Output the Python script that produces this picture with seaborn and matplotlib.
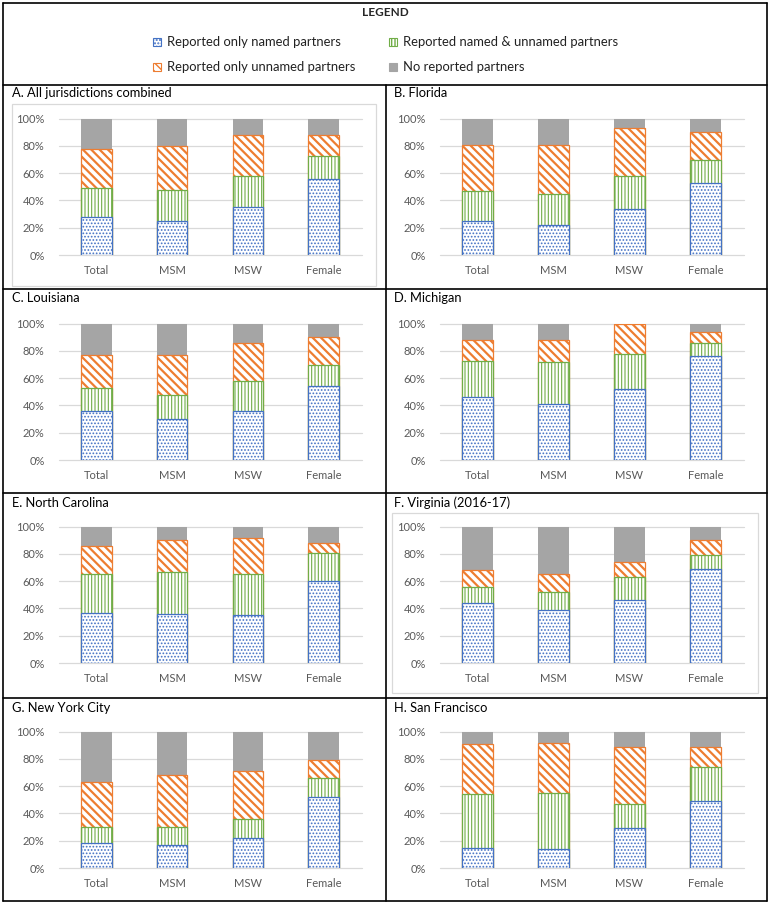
import numpy as np
import pandas as pd
import matplotlib
matplotlib.use("Agg")
import matplotlib.pyplot as plt
from matplotlib.patches import Rectangle
from matplotlib.lines import Line2D
import seaborn as sns

sns.set_theme(style="white")
plt.rcParams['font.family'] = ['Lato', 'DejaVu Sans']

categories = ["Total", "MSM", "MSW", "Female"]
series_names = ["Reported only named partners", "Reported named & unnamed partners",
                "Reported only unnamed partners", "No reported partners"]
panel_titles = ["A. All jurisdictions combined", "B. Florida", "C. Louisiana", "D. Michigan",
                "E. North Carolina", "F. Virginia (2016-17)", "G. New York City", "H. San Francisco"]

# percentages per panel: [named only, named & unnamed, unnamed only, none]
all_named   = [28, 25, 35, 56]; all_both = [21, 23, 23, 17]; all_unnamed = [29, 32, 30, 15]; all_none = [22, 20, 12, 12]
fl_named    = [25, 22, 34, 53]; fl_both  = [22, 23, 24, 17]; fl_unnamed  = [34, 36, 35, 20]; fl_none  = [19, 19, 7, 10]
la_named    = [36, 30, 36, 54]; la_both  = [17, 18, 22, 16]; la_unnamed  = [24, 29, 28, 20]; la_none  = [23, 23, 14, 10]
mi_named    = [46, 41, 52, 76]; mi_both  = [27, 31, 26, 10]; mi_unnamed  = [15, 16, 22, 8];  mi_none  = [12, 12, 0, 6]
nc_named    = [37, 36, 35, 60]; nc_both  = [28, 31, 30, 21]; nc_unnamed  = [21, 23, 27, 7];  nc_none  = [14, 10, 8, 12]
va_named    = [44, 39, 46, 69]; va_both  = [12, 13, 17, 10]; va_unnamed  = [12, 13, 11, 11]; va_none  = [32, 35, 26, 10]
nyc_named   = [18, 17, 22, 52]; nyc_both = [12, 13, 14, 14]; nyc_unnamed = [33, 38, 35, 13]; nyc_none = [37, 32, 29, 21]
sf_named    = [15, 14, 29, 49]; sf_both  = [39, 41, 18, 25]; sf_unnamed  = [37, 37, 42, 15]; sf_none  = [9, 8, 11, 11]

panel_data = [
    (all_named, all_both, all_unnamed, all_none),
    (fl_named, fl_both, fl_unnamed, fl_none),
    (la_named, la_both, la_unnamed, la_none),
    (mi_named, mi_both, mi_unnamed, mi_none),
    (nc_named, nc_both, nc_unnamed, nc_none),
    (va_named, va_both, va_unnamed, va_none),
    (nyc_named, nyc_both, nyc_unnamed, nyc_none),
    (sf_named, sf_both, sf_unnamed, sf_none),
]

BLUE = "#4472C4"; GREEN = "#70AD47"; ORANGE = "#ED7D31"; GRAY = "#A5A5A5"
styles = [
    dict(face="white", edge=BLUE, hatch=".....", hlw=0.8),
    dict(face="white", edge=GREEN, hatch="|||||", hlw=0.8),
    dict(face="white", edge=ORANGE, hatch="\\\\\\\\", hlw=1.6),
    dict(face=GRAY, edge=GRAY, hatch=None, hlw=1.0),
]

W, H = 769, 905
fig = plt.figure(figsize=(W / 100, H / 100), dpi=100)

def fx(x): return x / W
def fy(y): return 1 - y / H

def line(x0, y0, x1, y1, color="black", lw=1.2):
    fig.add_artist(Line2D([fx(x0), fx(x1)], [fy(y0), fy(y1)], color=color, lw=lw,
                          transform=fig.transFigure))

# outer grid
line(3, 3, 767, 3); line(3, 901, 767, 901)
line(3, 3, 3, 901); line(767, 3, 767, 901)
for yy in [85, 289.5, 493, 697.5]:
    line(3, yy, 767, yy)
line(386.5, 85, 386.5, 901)

# chart area borders for A and F
for (x0, y0, x1, y1) in [(12, 104, 376, 286), (392, 513, 758, 693)]:
    fig.add_artist(Rectangle((fx(x0), fy(y1)), fx(x1) - fx(x0), fy(y0) - fy(y1),
                             transform=fig.transFigure, fill=False, edgecolor="#D9D9D9", lw=0.9))

# legend
fig.text(fx(385), fy(12), "LEGEND", ha="center", va="center", fontsize=8.5, fontweight="bold")
leg_pos = [(153, 42), (389, 42), (153, 67), (389, 67)]
for (lx, ly), name, st in zip(leg_pos, series_names, styles):
    r = Rectangle((fx(lx), fy(ly + 4)), fx(8), 8 / H, transform=fig.transFigure,
                  facecolor=st["face"], edgecolor=st["edge"], hatch=st["hatch"], lw=0.8)
    fig.add_artist(r)
    fig.text(fx(lx + 14), fy(ly), name, ha="left", va="center", fontsize=9.4, color="#222222")

# panels: (y0%, y100%, title y) and (axes left, axes right, title x)
row_ys = [(255, 118.7, 93), (460, 323.7, 298), (663, 526.7, 503), (868, 731.7, 708)]
col_xs = [(58.5, 361.5, 12), (439.5, 743.5, 394)]

for i, (title, data) in enumerate(zip(panel_titles, panel_data)):
    r, c = divmod(i, 2)
    yb, yt, ty = row_ys[r]
    xl, xr, tx = col_xs[c]
    ax = fig.add_axes([fx(xl), fy(yb), fx(xr) - fx(xl), (yb - yt) / H])
    fig.text(fx(tx), fy(ty), title, ha="left", va="center", fontsize=9.3, color="black")

    cum = np.cumsum(np.array(data, dtype=float), axis=0) / 100.0
    # draw from top layer down so lower layers cover upper ones
    for k in [3, 2, 1, 0]:
        st = styles[k]
        df = pd.DataFrame({"group": categories, "value": cum[k]})
        n_before = len(ax.patches)
        sns.barplot(data=df, x="group", y="value", ax=ax, color=st["face"], saturation=1,
                    width=0.4, edgecolor=st["edge"], linewidth=0.9 if k < 3 else 0,
                    hatch=st["hatch"], errorbar=None, zorder=2 + (3 - k))
        for p in ax.patches[n_before:]:
            p.set_facecolor(st["face"])
            try:
                p.set_hatch_linewidth(st["hlw"])
            except Exception:
                pass
    ax.set_ylim(0, 1)
    ax.set_xlim(-0.5, 3.5)
    ax.set_yticks([0, 0.2, 0.4, 0.6, 0.8, 1.0])
    ax.set_yticklabels(["0%", "20%", "40%", "60%", "80%", "100%"])
    ax.set_xlabel(""); ax.set_ylabel("")
    for yv in [0, 0.2, 0.4, 0.6, 0.8, 1.0]:
        ax.axhline(yv, color="#D9D9D9", lw=0.9, zorder=1, clip_on=False)
    for s in ax.spines.values():
        s.set_visible(False)
    ax.set_facecolor("none")
    ax.tick_params(axis="both", length=0, labelsize=8, colors="#595959")
    ax.tick_params(axis="y", pad=10)
    ax.tick_params(axis="x", pad=7)

fig.savefig("out.png", dpi=100)
